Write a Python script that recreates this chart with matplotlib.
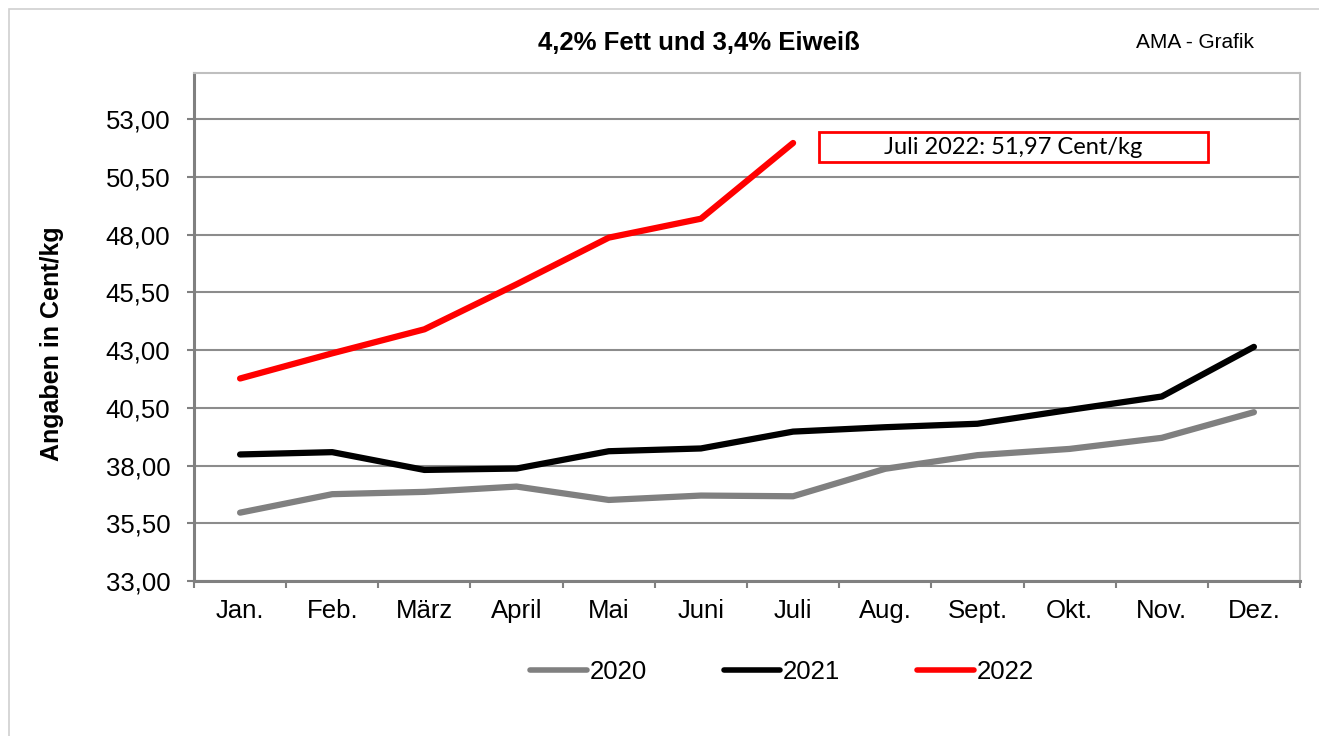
import matplotlib
matplotlib.use('Agg')
import matplotlib.pyplot as plt
from matplotlib.patches import Rectangle
import matplotlib.ticker as ticker

plt.rcParams['font.family'] = ['Liberation Sans', 'DejaVu Sans']

# data (Cent/kg)
MONTHS = ['Jan.', 'Feb.', 'März', 'April', 'Mai', 'Juni', 'Juli',
          'Aug.', 'Sept.', 'Okt.', 'Nov.', 'Dez.']
Y2020 = [35.96, 36.76, 36.86, 37.09, 36.51, 36.70, 36.67,
         37.86, 38.45, 38.72, 39.20, 40.31]
Y2021 = [38.48, 38.58, 37.81, 37.87, 38.62, 38.74, 39.47,
         39.66, 39.81, 40.41, 40.99, 43.14]
Y2022 = [41.77, 42.86, 43.90, 45.85, 47.87, 48.69, 51.97]
Y_TICKS = [33.0, 35.5, 38.0, 40.5, 43.0, 45.5, 48.0, 50.5, 53.0]

W, H = 1319, 736
fig = plt.figure(figsize=(W / 100, H / 100), dpi=100)
fig.patch.set_facecolor('white')

# outer chart border (only top/left visible in the reference)
fig.patches.append(Rectangle((9 / W, -0.5), 2.0, 1.5 - 9 / H, transform=fig.transFigure,
                             fill=False, edgecolor='#d0d0d0', linewidth=1.2))

ax = fig.add_axes([194 / W, 1 - 581 / H, (1300 - 194) / W, (581 - 73) / H])

x = list(range(len(MONTHS)))
ax.plot(x, Y2020, color='#808080', linewidth=4.5, solid_capstyle='round',
        solid_joinstyle='round', label='2020', zorder=3)
ax.plot(x, Y2021, color='black', linewidth=4.5, solid_capstyle='round',
        solid_joinstyle='round', label='2021', zorder=3)
ax.plot(x[:len(Y2022)], Y2022, color='#ff0000', linewidth=4.5, solid_capstyle='round',
        solid_joinstyle='round', label='2022', zorder=3)

ax.set_xlim(-0.5, len(MONTHS) - 0.5)
ax.set_ylim(33, 55)
ax.set_yticks(Y_TICKS)
ax.yaxis.set_major_formatter(ticker.FuncFormatter(lambda v, p: f'{v:.2f}'.replace('.', ',')))
ax.set_xticks(x)
ax.set_xticklabels(MONTHS)
ax.set_xticks([i - 0.5 for i in range(len(MONTHS) + 1)], minor=True)

ax.grid(axis='y', color='#8c8c8c', linewidth=1.5, zorder=1)
ax.set_axisbelow(True)

ax.tick_params(axis='x', which='major', length=0, pad=13, labelsize=18.5)
ax.tick_params(axis='x', which='minor', length=5, width=1.5, color='#808080', direction='out')
ax.tick_params(axis='y', which='major', length=5, width=1.5, color='#808080',
               direction='out', pad=12, labelsize=18.5)

for side in ('left', 'bottom'):
    ax.spines[side].set_color('#808080')
    ax.spines[side].set_linewidth(2.2)
for side in ('top', 'right'):
    ax.spines[side].set_color('#bfbfbf')
    ax.spines[side].set_linewidth(1.5)

# annotation box for the latest value
ax.add_patch(Rectangle((819 / W, 1 - 162 / H), (1208 - 819) / W, 30 / H,
                       transform=fig.transFigure, facecolor='white',
                       edgecolor='#ff0000', linewidth=2, zorder=4, clip_on=False))
fig.text(1013 / W, 1 - 147 / H, 'Juli 2022: 51,97 Cent/kg', ha='center', va='center',
         fontsize=17, family=['Lato', 'DejaVu Sans'], zorder=5)

fig.text(699 / W, 1 - 43 / H, '4,2% Fett und 3,4% Eiweiß', ha='center', va='center',
         fontsize=18.5, fontweight='bold')
fig.text(1195 / W, 1 - 43 / H, 'AMA - Grafik', ha='center', va='center', fontsize=15)
fig.text(52 / W, 1 - 344 / H, 'Angaben in Cent/kg', ha='center', va='center',
         rotation=90, fontsize=18, fontweight='bold')

leg = fig.legend(loc='center', bbox_to_anchor=(782 / W, 1 - 672 / H), ncol=3,
                 frameon=False, fontsize=18.5, handlelength=2.2, handletextpad=0.1,
                 columnspacing=3.0)
for line in leg.get_lines():
    line.set_linewidth(4)

fig.savefig('out.png', dpi=100, facecolor='white')
plt.close(fig)
